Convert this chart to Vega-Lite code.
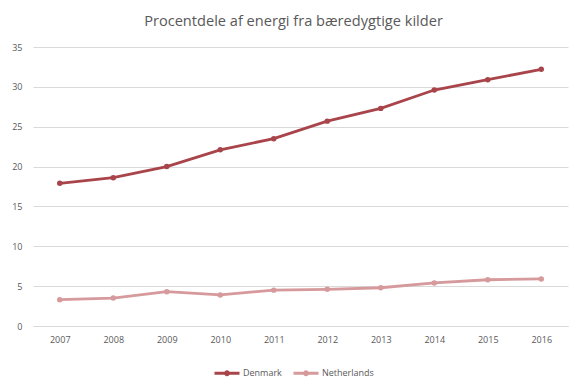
{
  "$schema": "https://vega.github.io/schema/vega-lite/v6.json",
  "width": 535,
  "height": 279,
  "autosize": {"type": "none"},
  "padding": {"left": 33, "top": 47, "right": 19, "bottom": 62},
  "background": "white",
  "title": {
    "text": "Procentdele af energi fra bæredygtige kilder",
    "font": "Open Sans",
    "fontSize": 14.6,
    "fontWeight": "normal",
    "color": "#595959",
    "anchor": "middle",
    "dx": -7,
    "offset": 14
  },
  "data": {
    "values": [
      {"year": "2007", "country": "Denmark", "value": 17.9},
      {"year": "2008", "country": "Denmark", "value": 18.6},
      {"year": "2009", "country": "Denmark", "value": 20.0},
      {"year": "2010", "country": "Denmark", "value": 22.1},
      {"year": "2011", "country": "Denmark", "value": 23.5},
      {"year": "2012", "country": "Denmark", "value": 25.7},
      {"year": "2013", "country": "Denmark", "value": 27.3},
      {"year": "2014", "country": "Denmark", "value": 29.6},
      {"year": "2015", "country": "Denmark", "value": 30.9},
      {"year": "2016", "country": "Denmark", "value": 32.2},
      {"year": "2007", "country": "Netherlands", "value": 3.3},
      {"year": "2008", "country": "Netherlands", "value": 3.5},
      {"year": "2009", "country": "Netherlands", "value": 4.3},
      {"year": "2010", "country": "Netherlands", "value": 3.9},
      {"year": "2011", "country": "Netherlands", "value": 4.5},
      {"year": "2012", "country": "Netherlands", "value": 4.6},
      {"year": "2013", "country": "Netherlands", "value": 4.8},
      {"year": "2014", "country": "Netherlands", "value": 5.4},
      {"year": "2015", "country": "Netherlands", "value": 5.8},
      {"year": "2016", "country": "Netherlands", "value": 5.9}
    ]
  },
  "mark": {"type": "line", "strokeWidth": 2.8, "point": {"filled": true, "size": 30}},
  "encoding": {
    "x": {
      "field": "year",
      "type": "ordinal",
      "scale": {"type": "point", "padding": 0.5},
      "axis": {
        "title": null,
        "labelAngle": 0,
        "ticks": false,
        "domain": true,
        "domainColor": "#D9D9D9",
        "labelFont": "Open Sans",
        "labelFontSize": 9,
        "labelColor": "#595959",
        "labelPadding": 9
      }
    },
    "y": {
      "field": "value",
      "type": "quantitative",
      "scale": {"domain": [0, 35], "nice": false},
      "axis": {
        "title": null,
        "values": [0, 5, 10, 15, 20, 25, 30, 35],
        "ticks": false,
        "domain": false,
        "gridColor": "#D9D9D9",
        "labelFont": "Open Sans",
        "labelFontSize": 9,
        "labelColor": "#595959",
        "labelPadding": 11
      }
    },
    "color": {
      "field": "country",
      "type": "nominal",
      "scale": {"domain": ["Denmark", "Netherlands"], "range": ["#A8444A", "#D6999C"]},
      "legend": {
        "title": null,
        "orient": "none",
        "direction": "horizontal",
        "legendX": 180,
        "legendY": 312,
        "symbolType": "M -1 0 L 1 0 M 0.12 0 A 0.12 0.12 0 1 1 -0.12 0 A 0.12 0.12 0 1 1 0.12 0",
        "symbolSize": 625,
        "symbolStrokeWidth": 3,
        "labelFont": "Open Sans",
        "labelFontSize": 9,
        "labelColor": "#595959",
        "columnPadding": 5,
        "labelOffset": 2
      }
    }
  },
  "config": {"view": {"stroke": null}}
}
